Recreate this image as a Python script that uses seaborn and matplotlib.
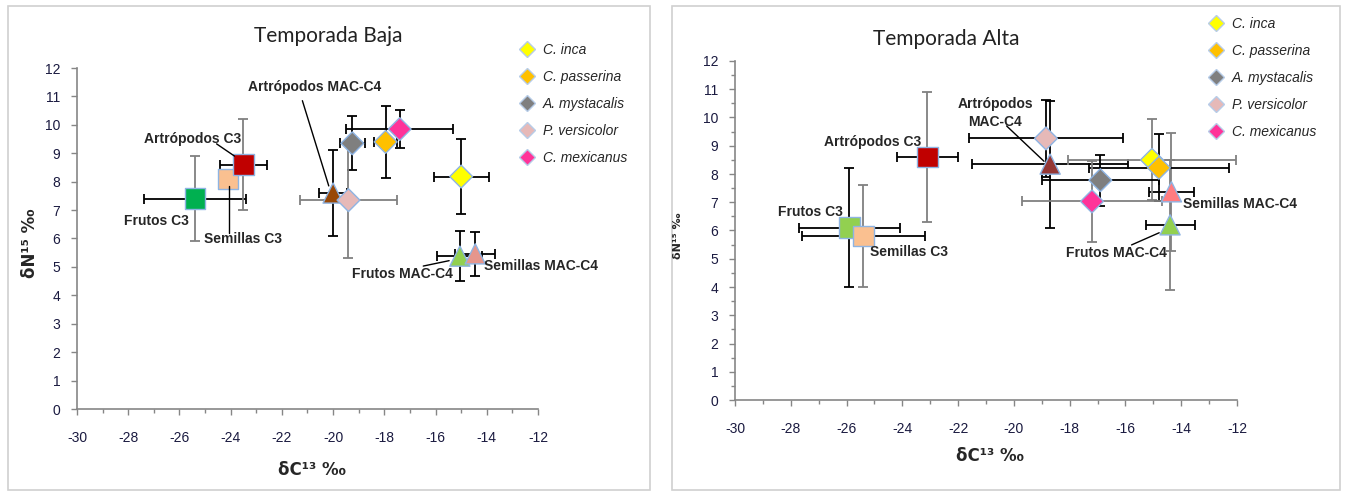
#%% Isotopos estables - temporada baja y alta

import numpy as np
import pandas as pd
import matplotlib
matplotlib.use('Agg')
import matplotlib.pyplot as plt
import seaborn as sns
from matplotlib.lines import Line2D
from matplotlib.patches import Rectangle
from matplotlib.ticker import MultipleLocator

#%% Datos

grupos = ['Frutos C3', 'Semillas C3', 'Artrópodos C3', 'Artrópodos MAC-C4',
          'Frutos MAC-C4', 'Semillas MAC-C4', 'C. inca', 'C. passerina',
          'A. mystacalis', 'P. versicolor', 'C. mexicanus']
aves = ['C. inca', 'C. passerina', 'A. mystacalis', 'P. versicolor', 'C. mexicanus']

# temporada baja
baja_c13 = [-25.4, -24.1, -23.5, -20.0, -15.05, -14.45, -15.0, -17.95, -19.25, -19.4, -17.4]
baja_n15 = [7.4, 8.1, 8.6, 7.6, 5.38, 5.46, 8.18, 9.4, 9.35, 7.35, 9.85]
baja_c13_err = [2.0, 0.0, 0.9, 0.55, 0.88, 0.78, 1.07, 0.45, 0.5, 1.9, 2.1]
baja_n15_err = [1.5, 0.0, 1.6, 1.5, 0.87, 0.78, 1.33, 1.28, 0.95, 2.05, 0.67]

# temporada alta
alta_c13 = [-25.9, -25.4, -23.1, -18.7, -14.4, -14.35, -15.05, -14.8, -16.9, -18.85, -17.2]
alta_n15 = [6.1, 5.8, 8.6, 8.35, 6.2, 7.37, 8.5, 8.22, 7.78, 9.26, 7.03]
alta_c13_err = [1.8, 2.2, 1.1, 2.8, 0.88, 0.8, 3.0, 2.5, 2.1, 2.75, 2.5]
alta_n15_err = [2.1, 1.8, 2.3, 2.25, 2.3, 2.08, 1.43, 1.18, 0.9, 1.35, 1.42]

#%% Estilo

sns.set_style('white')
plt.rcParams['font.family'] = ['Liberation Sans', 'DejaVu Sans']
plt.rcParams['axes.unicode_minus'] = False

marcadores = {'Frutos C3': 's', 'Semillas C3': 's', 'Artrópodos C3': 's',
              'Artrópodos MAC-C4': '^', 'Frutos MAC-C4': '^', 'Semillas MAC-C4': '^',
              'C. inca': 'D', 'C. passerina': 'D', 'A. mystacalis': 'D',
              'P. versicolor': 'D', 'C. mexicanus': 'D'}

colores_aves = {'C. inca': '#FFFF00', 'C. passerina': '#FFC000', 'A. mystacalis': '#7F7F7F',
                'P. versicolor': '#E6B9B8', 'C. mexicanus': '#FF3399'}
colores_baja = {'Frutos C3': '#00B050', 'Semillas C3': '#FAC090', 'Artrópodos C3': '#C00000',
                'Artrópodos MAC-C4': '#984807', 'Frutos MAC-C4': '#92D050',
                'Semillas MAC-C4': '#E6968C', **colores_aves}
colores_alta = {'Frutos C3': '#92D050', 'Semillas C3': '#FAC090', 'Artrópodos C3': '#C00000',
                'Artrópodos MAC-C4': '#953735', 'Frutos MAC-C4': '#92D050',
                'Semillas MAC-C4': '#FF7C80', **colores_aves}

tamanos = {'s': 220, '^': 210, 'D': 135}

K, G = '#000000', '#808080'
# colores de barras de error (x, y)
baja_ecol_x = [K, K, K, K, K, K, K, K, K, G, K]
baja_ecol_y = [G, K, G, K, K, K, K, K, K, G, K]
alta_ecol_x = [K, K, K, K, K, K, G, K, K, K, G]
alta_ecol_y = [K, G, G, K, G, G, G, K, K, K, G]

fig = plt.figure(figsize=(13.46, 4.94), dpi=100)

# marcos de cada grafico
for x0, w in [(8, 642), (672, 668)]:
    fig.patches.append(Rectangle((x0 / 1346, 4 / 494), w / 1346, 484 / 494,
                                 transform=fig.transFigure, fill=False,
                                 edgecolor='#D0D0D0', lw=1.2))


def panel(ax, c13, n15, ec13, en15, colx, coly, colores, etiquetas, minor_y):
    df = pd.DataFrame({'grupo': grupos, 'c13': c13, 'n15': n15, 'ec13': ec13, 'en15': en15})
    for i, r in df.iterrows():
        if r.ec13 > 0:
            ax.errorbar(r.c13, r.n15, xerr=r.ec13, fmt='none', ecolor=colx[i],
                        elinewidth=1.3, capsize=3.5, capthick=1.3, zorder=2)
        if r.en15 > 0:
            ax.errorbar(r.c13, r.n15, yerr=r.en15, fmt='none', ecolor=coly[i],
                        elinewidth=1.3, capsize=3.5, capthick=1.3, zorder=2)
    for m in ['s', '^', 'D']:
        sub = df[df.grupo.map(marcadores) == m]
        sns.scatterplot(data=sub, x='c13', y='n15', hue='grupo', palette=colores,
                        marker=m, s=tamanos[m], edgecolor='#8EB4E3', linewidth=1.0,
                        legend=False, ax=ax, zorder=3)
    ax.set_xlim(-30, -12)
    ax.set_ylim(0, 12)
    ax.xaxis.set_major_locator(MultipleLocator(2))
    ax.xaxis.set_minor_locator(MultipleLocator(1))
    ax.yaxis.set_major_locator(MultipleLocator(1))
    if minor_y:
        ax.yaxis.set_minor_locator(MultipleLocator(0.5))
    for s in ['top', 'right']:
        ax.spines[s].set_visible(False)
    for s in ['left', 'bottom']:
        ax.spines[s].set_color('#868686')
        ax.spines[s].set_linewidth(1.2)
    ax.tick_params(axis='both', which='both', direction='out', color='#868686',
                   bottom=True, left=True, labelsize=10, labelcolor='#1A1A40')
    ax.tick_params(axis='both', which='major', length=4, width=1)
    ax.tick_params(axis='both', which='minor', length=3, width=1)
    ax.tick_params(axis='x', which='major', pad=12)
    ax.tick_params(axis='y', which='major', pad=8)
    ax.set_xlabel('')
    ax.set_ylabel('')
    ax.grid(False)
    for texto, tx, ty, linea in etiquetas:
        ax.text(tx, ty, texto, fontsize=10, fontweight='bold', ha='center', va='center',
                linespacing=1.3, clip_on=False, zorder=4)
        if linea is not None:
            ax.plot(linea[0], linea[1], color='black', lw=1, zorder=4, clip_on=False)


# etiquetas: texto, x, y, linea ((x0, x1), (y0, y1))
etq_baja = [('Artrópodos MAC-C4', -20.74, 11.34, ((-21.2, -20.17), (10.85, 7.85))),
            ('Artrópodos C3', -25.5, 9.5, ((-24.55, -23.85), (9.33, 8.9))),
            ('Frutos C3', -26.9, 6.62, None),
            ('Semillas C3', -23.5, 6.0, ((-24.05, -24.05), (7.85, 6.2))),
            ('Frutos MAC-C4', -17.3, 4.75, ((-16.48, -15.47), (5.03, 5.22))),
            ('Semillas MAC-C4', -11.9, 5.03, None)]
etq_alta = [('Artrópodos\nMAC-C4', -20.67, 10.16, ((-20.26, -18.92), (9.7, 8.45))),
            ('Artrópodos C3', -25.05, 9.15, None),
            ('Frutos C3', -27.3, 6.65, None),
            ('Semillas C3', -23.76, 5.25, None),
            ('Frutos MAC-C4', -16.34, 5.2, ((-15.78, -14.79), (5.49, 5.92))),
            ('Semillas MAC-C4', -11.9, 6.93, None)]

ax1 = fig.add_axes([77 / 1346, (494 - 409) / 494, 461 / 1346, 341 / 494])
panel(ax1, baja_c13, baja_n15, baja_c13_err, baja_n15_err, baja_ecol_x, baja_ecol_y,
      colores_baja, etq_baja, False)

ax2 = fig.add_axes([735 / 1346, (494 - 400) / 494, 502 / 1346, 339 / 494])
panel(ax2, alta_c13, alta_n15, alta_c13_err, alta_n15_err, alta_ecol_x, alta_ecol_y,
      colores_alta, etq_alta, True)

# titulos
fig.text(328 / 1346, 1 - 36 / 494, 'Temporada Baja', fontsize=15, ha='center', va='center',
         family=['Lato', 'DejaVu Sans'], color='#222222')
fig.text(946 / 1346, 1 - 39 / 494, 'Temporada Alta', fontsize=15, ha='center', va='center',
         family=['Lato', 'DejaVu Sans'], color='#222222')

# ejes
fig.text(312 / 1346, 1 - 470 / 494, 'δC¹³ ‰', fontsize=12, fontweight='bold', ha='center',
         va='center', family=['DejaVu Sans'])
fig.text(990 / 1346, 1 - 456 / 494, 'δC¹³ ‰', fontsize=12, fontweight='bold', ha='center',
         va='center', family=['DejaVu Sans'])
fig.text(30 / 1346, 1 - 243 / 494, 'δN¹⁵ ‰', fontsize=12, fontweight='bold', ha='center',
         va='center', rotation=90, family=['DejaVu Sans'])
fig.text(678 / 1346, 1 - 236 / 494, 'δN¹⁵ ‰', fontsize=8, fontweight='bold', ha='center',
         va='center', rotation=90, family=['DejaVu Sans'])

# leyendas
handles = [Line2D([], [], marker='D', ls='', markersize=8.5, markerfacecolor=colores_aves[a],
                  markeredgecolor='#B7CCE8', markeredgewidth=1) for a in aves]
for xl, yl in [(512, 36), (1201, 10)]:
    fig.legend(handles, aves, loc='upper left', bbox_to_anchor=(xl / 1346, 1 - yl / 494),
               frameon=False, prop={'style': 'italic', 'size': 10}, labelspacing=0.93,
               handletextpad=0.5, handlelength=1.2, borderpad=0)

plt.savefig('out.png', dpi=100)
